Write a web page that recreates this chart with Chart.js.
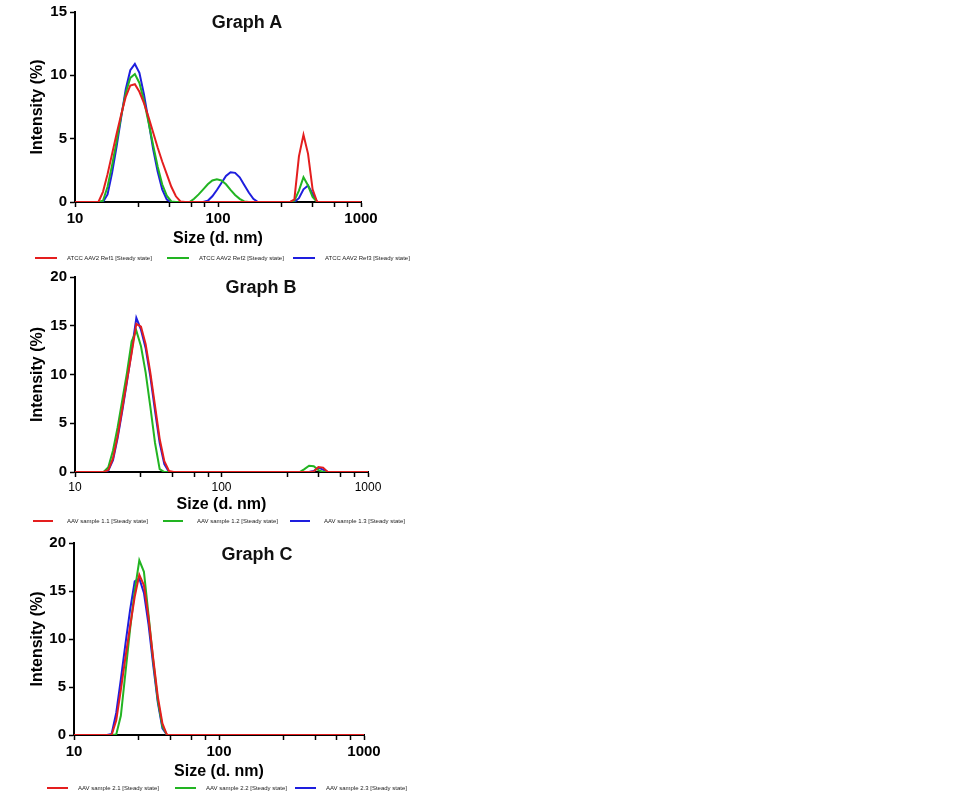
<!DOCTYPE html>
<html>
<head>
<meta charset="utf-8">
<title>DLS intensity distributions</title>
<script src="https://cdn.jsdelivr.net/npm/chart.js@4.4.1/dist/chart.umd.min.js"></script>
<style>
  body { margin: 0; background: #fff; font-family: "Liberation Sans", Arial, sans-serif; }
  #page { position: relative; width: 966px; height: 800px; overflow: hidden; }
  .panel { position: absolute; left: 0; width: 420px; height: 260px; }
  .panel canvas { position: absolute; left: 0; top: 0; }
  .graph-title { position: absolute; font-size: 18px; font-weight: bold; color: #111; transform: translate(-50%, -50%); white-space: nowrap; line-height: 1; }
  .legend-item { position: absolute; height: 10px; display: flex; align-items: center; white-space: nowrap; }
  .legend-line { height: 2.5px; }
  .legend-text { font-size: 6px; color: #222; line-height: 1; }
</style>
</head>
<body>
<div id="page">
  <div class="panel" style="top:0px">
    <canvas id="graphA" width="420" height="260"></canvas>
    <div class="graph-title" style="left:247px;top:22px">Graph A</div>
  </div>
  <div class="panel" style="top:265px">
    <canvas id="graphB" width="420" height="260"></canvas>
    <div class="graph-title" style="left:261px;top:22px">Graph B</div>
  </div>
  <div class="panel" style="top:531px">
    <canvas id="graphC" width="420" height="260"></canvas>
    <div class="graph-title" style="left:257px;top:22.5px">Graph C</div>
  </div>
</div>
<script>
// Size bins (d. nm) shared by every series
const sizes = [
  9.37, 10.1, 10.87, 11.7, 12.59, 13.54, 14.58, 15.69, 16.89, 18.17, 19.55,
  21.04, 22.64, 24.36, 26.22, 28.21, 30.36, 32.67, 35.16, 37.84, 40.72, 43.82,
  47.16, 50.75, 54.61, 58.77, 63.25, 68.06, 73.24, 78.82, 84.82, 91.28, 98.23,
  105.7, 113.7, 122.4, 131.7, 141.8, 152.6, 164.2, 176.7, 190.1, 204.6, 220.2,
  236.9, 255.0, 274.4, 295.3, 317.8, 342.0, 368.1, 396.1, 426.3, 458.7, 493.6,
  531.2, 571.6, 615.1, 662.0, 712.4, 766.6, 825.0, 887.8, 955.4, 1028, 1106
];

// Graph A - intensity (%)
const atccRef1 = [
  0, 0, 0, 0, 0, 0, 0, 0.8, 2.2, 3.8, 5.4,
  6.9, 8.3, 9.2, 9.3, 8.7, 7.8, 6.7, 5.5, 4.3, 3.2, 2.2,
  1.2, 0.45, 0.05, 0, 0, 0, 0, 0, 0, 0, 0,
  0, 0, 0, 0, 0, 0, 0, 0, 0, 0, 0,
  0, 0, 0, 0, 0, 0.2, 3.6, 5.3, 3.8, 1.0, 0,
  0, 0, 0, 0, 0, 0, 0, 0, 0, 0, 0
];
const atccRef2 = [
  0, 0, 0, 0, 0, 0, 0, 0.1, 1.2, 2.9, 4.8,
  6.8, 8.6, 9.8, 10.1, 9.4, 8.0, 6.3, 4.5, 2.8, 1.4, 0.5,
  0.05, 0, 0, 0, 0, 0.25, 0.6, 1.0, 1.4, 1.7, 1.8,
  1.7, 1.4, 0.95, 0.55, 0.25, 0.05, 0, 0, 0, 0, 0,
  0, 0, 0, 0, 0, 0.1, 0.9, 1.95, 1.3, 0.4, 0,
  0, 0, 0, 0, 0, 0, 0, 0, 0, 0, 0
];
const atccRef3 = [
  0, 0, 0, 0, 0, 0, 0, 0, 0.6, 2.3, 4.4,
  6.7, 8.9, 10.4, 10.9, 10.2, 8.5, 6.4, 4.2, 2.4, 1.0, 0.2,
  0, 0, 0, 0, 0, 0, 0, 0, 0.1, 0.45, 0.95,
  1.5, 2.05, 2.35, 2.3, 1.95, 1.35, 0.75, 0.25, 0, 0, 0,
  0, 0, 0, 0, 0, 0, 0.3, 1.0, 1.3, 0.65, 0,
  0, 0, 0, 0, 0, 0, 0, 0, 0, 0, 0
];

// Graph B
const sample11 = [
  0, 0, 0, 0, 0, 0, 0, 0, 0.2, 1.4, 3.7,
  6.5, 9.4, 12.2, 15.2, 14.9, 13.1, 10.2, 6.8, 3.4, 1.1, 0.1,
  0, 0, 0, 0, 0, 0, 0, 0, 0, 0, 0,
  0, 0, 0, 0, 0, 0, 0, 0, 0, 0, 0,
  0, 0, 0, 0, 0, 0, 0, 0, 0.05, 0.5, 0.45,
  0, 0, 0, 0, 0, 0, 0, 0, 0, 0, 0
];
const sample12 = [
  0, 0, 0, 0, 0, 0, 0, 0, 0.5, 2.2, 4.6,
  7.4, 10.2, 13.4, 14.5, 12.9, 10.2, 6.7, 3.0, 0.3, 0, 0,
  0, 0, 0, 0, 0, 0, 0, 0, 0, 0, 0,
  0, 0, 0, 0, 0, 0, 0, 0, 0, 0, 0,
  0, 0, 0, 0, 0, 0, 0.3, 0.65, 0.6, 0.2, 0,
  0, 0, 0, 0, 0, 0, 0, 0, 0, 0, 0
];
const sample13 = [
  0, 0, 0, 0, 0, 0, 0, 0, 0.15, 1.2, 3.5,
  6.3, 9.3, 12.4, 15.8, 14.6, 12.7, 9.8, 6.3, 3.0, 0.8, 0,
  0, 0, 0, 0, 0, 0, 0, 0, 0, 0, 0,
  0, 0, 0, 0, 0, 0, 0, 0, 0, 0, 0,
  0, 0, 0, 0, 0, 0, 0, 0, 0.1, 0.45, 0.25,
  0, 0, 0, 0, 0, 0, 0, 0, 0, 0, 0
];

// Graph C
const sample21 = [
  0, 0, 0, 0, 0, 0, 0, 0, 0, 0, 1.5,
  4.7, 8.1, 11.3, 14.4, 16.7, 15.6, 12.2, 8.0, 4.0, 1.2, 0,
  0, 0, 0, 0, 0, 0, 0, 0, 0, 0, 0,
  0, 0, 0, 0, 0, 0, 0, 0, 0, 0, 0,
  0, 0, 0, 0, 0, 0, 0, 0, 0, 0, 0,
  0, 0, 0, 0, 0, 0, 0, 0, 0, 0, 0
];
const sample22 = [
  0, 0, 0, 0, 0, 0, 0, 0, 0, 0, 0.05,
  2.0, 6.5, 11.0, 15.0, 18.2, 17.0, 12.5, 7.8, 3.6, 0.9, 0,
  0, 0, 0, 0, 0, 0, 0, 0, 0, 0, 0,
  0, 0, 0, 0, 0, 0, 0, 0, 0, 0, 0,
  0, 0, 0, 0, 0, 0, 0, 0, 0, 0, 0,
  0, 0, 0, 0, 0, 0, 0, 0, 0, 0, 0
];
const sample23 = [
  0, 0, 0, 0, 0, 0, 0, 0, 0, 0.1, 2.3,
  5.8, 9.5, 13.0, 16.0, 16.3, 14.8, 11.5, 7.3, 3.4, 0.7, 0,
  0, 0, 0, 0, 0, 0, 0, 0, 0, 0, 0,
  0, 0, 0, 0, 0, 0, 0, 0, 0, 0, 0,
  0, 0, 0, 0, 0, 0, 0, 0, 0, 0, 0,
  0, 0, 0, 0, 0, 0, 0, 0, 0, 0, 0
];

const labelsA = ['ATCC AAV2 Ref1 [Steady state]', 'ATCC AAV2 Ref2 [Steady state]', 'ATCC AAV2 Ref3 [Steady state]'];
const labelsB = ['AAV sample 1.1 [Steady state]', 'AAV sample 1.2 [Steady state]', 'AAV sample 1.3 [Steady state]'];
const labelsC = ['AAV sample 2.1 [Steady state]', 'AAV sample 2.2 [Steady state]', 'AAV sample 2.3 [Steady state]'];

// Axis ticks
const majorTicks = [10, 100, 1000];
const minorTicks = [28, 46, 65, 81, 280, 460, 650, 810];
const yStep = 5;

const COLORS = ['#e41e1e', '#22b422', '#1e1ede'];
const FONT = '"Liberation Sans", Arial, sans-serif';
Chart.defaults.font.family = FONT;

const xTickValues = [...majorTicks, ...minorTicks].sort((a, b) => a - b);

const axisLine = {
  grid: { drawOnChartArea: false, drawTicks: true, tickLength: 5, tickColor: '#000', tickWidth: 1.5 },
  border: { display: true, color: '#000', width: 2 }
};

const makeChart = (id, series, labels, opts) => {
  const ctx = document.getElementById(id).getContext('2d');
  return new Chart(ctx, {
    type: 'line',
    data: {
      datasets: series.map((vals, i) => ({
        label: labels[i],
        data: sizes.map((s, j) => ({ x: s, y: vals[j] })),
        borderColor: COLORS[i],
        backgroundColor: COLORS[i],
        borderWidth: 2,
        pointRadius: 0,
        tension: 0,
        fill: false
      }))
    },
    options: {
      responsive: false,
      animation: false,
      layout: { padding: { top: 12, right: opts.padRight, left: 0, bottom: 0 } },
      plugins: { legend: { display: false }, tooltip: { enabled: false }, title: { display: false } },
      scales: {
        x: {
          type: 'logarithmic',
          min: 10,
          max: 1000,
          afterBuildTicks: (scale) => { scale.ticks = xTickValues.map(v => ({ value: v })); },
          afterFit: (scale) => { scale.height = opts.xAxisHeight; },
          ticks: {
            autoSkip: false,
            maxRotation: 0,
            padding: 3,
            color: '#000',
            font: opts.xTickFont,
            callback: (v) => majorTicks.includes(v) ? String(v) : ''
          },
          ...axisLine,
          title: {
            display: true,
            text: 'Size (d. nm)',
            color: '#000',
            font: { size: 16, weight: 'bold' },
            padding: { top: 0, bottom: opts.xTitlePad }
          }
        },
        y: {
          min: 0,
          max: opts.yMax,
          afterFit: (scale) => { scale.width = opts.yAxisWidth; },
          ticks: { stepSize: yStep, padding: 3, color: '#000', font: { size: 15, weight: 'bold' } },
          ...axisLine,
          title: {
            display: true,
            text: 'Intensity (%)',
            color: '#000',
            font: { size: 16, weight: 'bold' },
            padding: { top: 28, bottom: 0 }
          }
        }
      }
    }
  });
};

// HTML legend under each graph
const addLegend = (labels, y, xs, lineW, gap) => {
  const page = document.getElementById('page');
  labels.forEach((text, i) => {
    const item = document.createElement('div');
    item.className = 'legend-item';
    item.style.left = xs[i] + 'px';
    item.style.top = (y - 5) + 'px';
    item.innerHTML = `<span class="legend-line" style="width:${lineW}px;background:${COLORS[i]};margin-right:${gap}px"></span>` +
      `<span class="legend-text">${text}</span>`;
    page.appendChild(item);
  });
};

makeChart('graphA', [atccRef1, atccRef2, atccRef3], labelsA, {
  yMax: 15, padRight: 59, xAxisHeight: 58, yAxisWidth: 75, xTitlePad: 11.4,
  xTickFont: { size: 15, weight: 'bold' }
});
makeChart('graphB', [sample11, sample12, sample13], labelsB, {
  yMax: 20, padRight: 52, xAxisHeight: 53, yAxisWidth: 75, xTitlePad: 10.4,
  xTickFont: { size: 12, weight: 'normal' }
});
makeChart('graphC', [sample21, sample22, sample23], labelsC, {
  yMax: 20, padRight: 56, xAxisHeight: 56, yAxisWidth: 74, xTitlePad: 9.4,
  xTickFont: { size: 15, weight: 'bold' }
});

addLegend(labelsA, 258, [35, 167, 293], 22, 10);
addLegend(labelsB, 521, [33, 163, 290], 20, 14);
addLegend(labelsC, 788, [47, 175, 295], 21, 10);
</script>
</body>
</html>
